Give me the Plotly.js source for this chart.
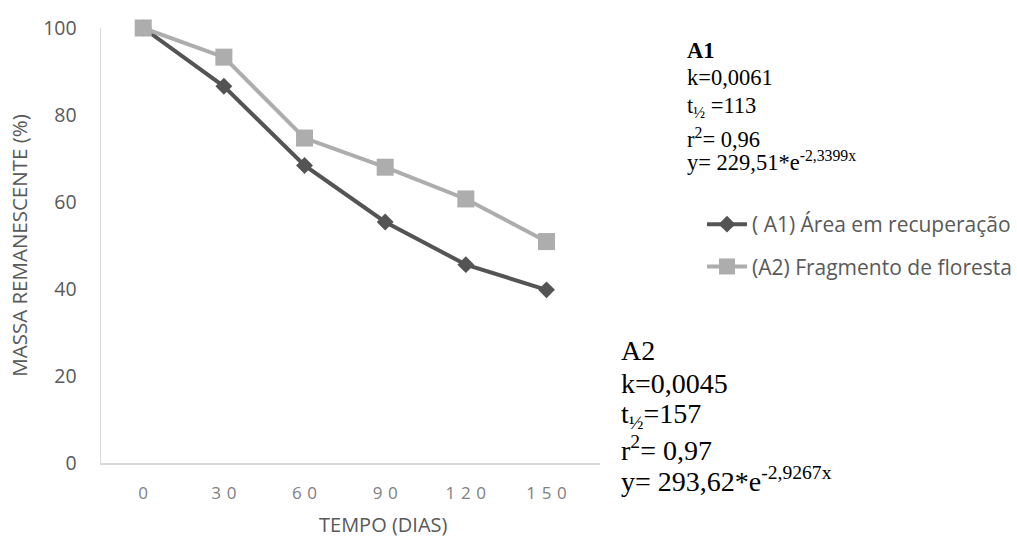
<!DOCTYPE html>
<html>
<head>
<meta charset="utf-8">
<script src="https://cdn.plot.ly/plotly-3.0.1.min.js"></script>
<style>html,body{margin:0;padding:0;background:#fff;}#chart{width:1017px;height:538px;}</style>
</head>
<body>
<div id="chart"></div>
<script>
// ---- data ----
const days = [0, 30, 60, 90, 120, 150];
const xTickLabels = ["0", "30", "60", "90", "120", "150"];
const yTicks = [0, 20, 40, 60, 80, 100];
const seriesNames = ["( A1) Área em recuperação", "(A2) Fragmento de floresta"];
const massA1 = [100, 86.6, 68.4, 55.4, 45.6, 39.8];
const massA2 = [100, 93.3, 74.7, 68.0, 60.7, 50.9];
const xTitle = "TEMPO (DIAS)";
const yTitle = "MASSA REMANESCENTE (%)";
const noteA1 = ["<b>A1</b>", "k=0,0061", "t<sub>½</sub> =113", "r<sup>2</sup>= 0,96", "y= 229,51*e<sup>-2,3399x</sup>"];
const noteA2 = ["A2", "k=0,0045", "t<sub>½</sub>=157", "r<sup>2</sup>= 0,97", "y= 293,62*e<sup>-2,9267x</sup>"];

// ---- layout geometry ----
const W = 1017, H = 538;
const L = 101, R = 600, T = 28, B = 463;
const px = x => (x - L) / (R - L);
const py = y => (B - y) / (B - T);

const sans = "'Open Sans', Lato, sans-serif";
const serif = "'Liberation Serif', 'DejaVu Serif', serif";
const spaced = s => s.split("").join("\u2004");

const traces = [
  {
    x: days, y: massA1, name: seriesNames[0], type: "scatter", mode: "lines+markers",
    legendgroup: "a1",
    line: {color: "#545454", width: 4},
    marker: {symbol: "diamond", size: 13, color: "#545454"},
    cliponaxis: false
  },
  {
    x: days, y: massA2, name: seriesNames[1], type: "scatter", mode: "lines+markers",
    legendgroup: "a2",
    line: {color: "#ADADAD", width: 4},
    marker: {symbol: "square", size: 17, color: "#ADADAD"},
    cliponaxis: false
  }
];

const annotations = [];
const a1Center = [50, 77, 107, 138, 161];
noteA1.forEach((t, i) => annotations.push({
  text: t, xref: "paper", yref: "paper", x: px(686), y: py(a1Center[i]),
  xanchor: "left", yanchor: "middle", showarrow: false,
  font: {family: serif, size: 22.5, color: "#000"}, borderpad: 0
}));
const a2Center = [350, 383, 415, 448, 479];
noteA2.forEach((t, i) => annotations.push({
  text: t, xref: "paper", yref: "paper", x: px(620), y: py(a2Center[i]),
  xanchor: "left", yanchor: "middle", showarrow: false,
  font: {family: serif, size: 28, color: "#000"}, borderpad: 0
}));
annotations.push({
  text: xTitle, xref: "paper", yref: "paper", x: px(383), y: py(524),
  xanchor: "center", yanchor: "middle", showarrow: false,
  font: {family: sans, size: 20, color: "#595959"}, borderpad: 0
});

const layout = {
  width: W, height: H,
  margin: {l: L, r: W - R, t: T, b: H - B},
  paper_bgcolor: "#fff", plot_bgcolor: "#fff",
  showlegend: true,
  legend: {
    xref: "container", yref: "container",
    x: 702 / W, y: 1 - 204 / H, xanchor: "left", yanchor: "top",
    font: {family: sans, size: 21, color: "#595959"},
    tracegroupgap: 12, itemwidth: 40, bgcolor: "rgba(0,0,0,0)"
  },
  xaxis: {
    range: [-15.7, 169.9], tickvals: days, ticktext: xTickLabels.map(spaced),
    showgrid: false, zeroline: false, showline: true, linecolor: "#D9D9D9", linewidth: 1.5,
    ticks: "outside", ticklen: 0, ticklabelstandoff: 14,
    tickfont: {family: sans, size: 17, color: "#808080"},
    automargin: false, fixedrange: true
  },
  yaxis: {
    range: [0, 100], tickvals: yTicks,
    showgrid: false, zeroline: false, showline: true, linecolor: "#D9D9D9", linewidth: 1.5,
    ticks: "outside", ticklen: 0, ticklabelstandoff: 19,
    tickfont: {family: sans, size: 19.5, color: "#595959"},
    title: {text: yTitle, font: {family: sans, size: 20.5, color: "#595959"}, standoff: 10},
    automargin: false, fixedrange: true
  },
  annotations: annotations
};

Plotly.newPlot("chart", traces, layout, {displayModeBar: false, staticPlot: true});
</script>
</body>
</html>
